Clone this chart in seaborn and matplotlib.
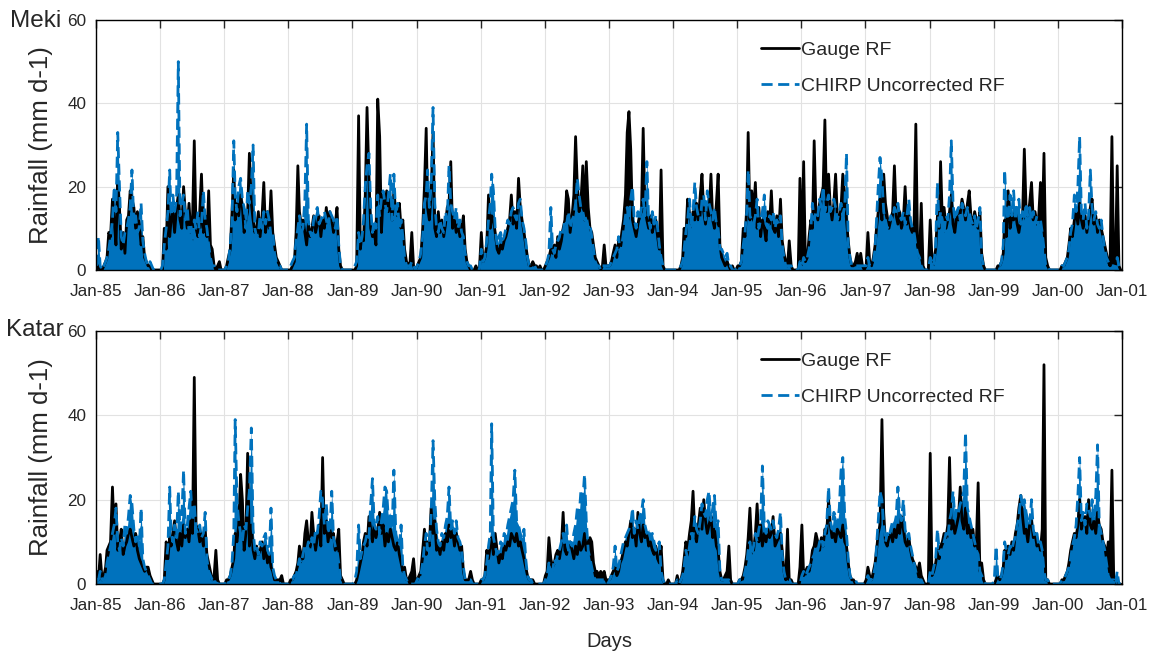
import matplotlib
matplotlib.use("Agg")
import matplotlib.pyplot as plt
import matplotlib.dates as mdates
import pandas as pd
import seaborn as sns

# dekadal rainfall (mm/d), one row per year 1985-2000, 36 dekads each
years = list(range(1985, 2001))

meki_gauge = [
    [0,1,0,0,1,2,3,9,8,17,12,6,21,15,5,9,4,12,13,19,17,15,10,14,11,6,8,3,2,1,1,0,0,0,0,0],
    [0,0,10,5,20,8,12,14,9,15,18,12,10,20,14,10,16,9,12,31,10,8,14,23,9,13,8,19,6,5,1,0,1,2,0,0],
    [0,1,3,5,14,24,12,16,13,18,15,9,12,14,28,16,12,9,10,14,8,13,21,9,14,10,19,9,6,3,2,1,0,0,0,0],
    [0,0,1,2,9,25,14,11,12,9,6,11,8,10,13,9,11,13,8,12,10,15,11,14,12,9,11,15,5,1,0,0,0,0,0,0],
    [0,0,1,37,5,9,7,18,39,22,10,8,9,6,41,32,9,18,15,19,14,17,12,19,14,13,16,10,12,5,2,1,2,9,1,0],
    [1,2,3,10,20,34,15,12,18,33,10,8,14,9,12,8,11,15,16,26,10,12,9,11,8,10,13,5,2,1,0,0,0,1,0,0],
    [9,2,3,6,18,10,13,12,9,5,4,6,5,7,8,10,12,18,11,14,10,22,15,12,9,6,3,1,1,2,1,1,0,1,0,0],
    [1,2,3,5,4,6,3,8,5,7,10,12,19,17,9,13,18,32,20,14,16,25,12,26,15,10,9,6,3,2,1,0,1,6,1,1],
    [1,2,4,6,3,7,5,9,12,18,33,38,29,12,10,8,11,13,14,34,15,12,10,13,9,11,12,8,5,24,1,0,0,0,0,0],
    [0,0,0,0,1,3,10,8,17,13,11,14,12,16,12,18,23,14,11,15,13,23,12,10,16,23,6,3,2,1,2,1,0,1,0,0],
    [1,1,2,10,8,15,33,12,19,14,21,10,15,8,12,10,7,14,11,19,10,9,13,8,17,7,4,2,1,7,1,0,0,0,0,22],
    [4,26,2,3,8,12,10,31,14,12,16,18,20,36,14,23,15,12,16,23,13,12,15,23,18,12,7,3,1,1,2,4,1,4,1,0],
    [1,9,2,1,3,6,10,14,17,12,23,16,13,10,12,14,25,13,11,14,10,12,20,11,13,10,9,11,35,6,3,16,1,0,0,0],
    [12,3,2,5,13,10,26,12,15,10,12,14,18,11,9,13,12,14,17,15,12,16,19,13,11,14,12,10,14,4,1,0,0,0,0,0],
    [0,0,1,1,2,4,12,8,19,10,13,12,14,11,9,12,13,29,15,13,16,21,12,14,11,13,21,10,28,3,1,0,0,0,0,0],
    [0,0,1,1,2,3,6,10,8,12,14,11,16,12,10,13,9,12,15,17,11,13,9,12,10,8,6,4,2,1,32,1,1,25,1,0],
]

meki_chirp = [
    [1,8,1,0,1,2,3,5,8,12,20,14,33,20,8,6,9,10,12,15,24,11,13,9,10,16,7,4,2,1,2,1,0,0,0,0],
    [0,1,6,10,14,24,13,18,14,17,50,13,16,18,12,15,9,11,7,12,10,14,8,11,19,12,10,6,3,1,1,0,0,0,0,0],
    [0,1,2,6,12,31,18,14,20,22,17,15,10,19,16,20,30,10,8,9,13,10,14,11,14,12,8,9,4,2,1,1,0,0,0,0],
    [0,1,2,3,7,10,13,9,10,17,35,12,9,8,12,14,15,11,12,13,14,12,10,14,13,12,10,13,6,1,0,0,0,0,0,0],
    [0,1,2,9,6,8,12,20,25,28,15,9,12,10,18,13,17,19,16,14,18,23,12,23,13,16,10,12,8,3,1,1,1,2,1,0],
    [1,2,4,8,16,18,24,15,20,39,16,10,9,12,10,9,14,12,25,16,14,12,15,10,12,9,8,4,2,1,1,0,0,0,0,0],
    [5,2,3,7,12,16,23,19,10,6,8,9,7,8,10,12,11,14,15,13,12,16,17,12,10,7,3,1,1,1,1,0,0,0,0,0],
    [1,2,4,15,5,4,6,7,8,10,9,12,11,14,10,12,13,16,22,18,15,14,12,13,10,11,8,5,2,1,1,0,1,1,1,1],
    [1,2,3,4,5,8,4,6,9,13,15,12,17,20,12,10,14,12,15,17,13,26,12,10,14,11,13,10,6,3,1,0,0,0,0,0],
    [0,0,0,0,1,2,5,9,12,17,10,14,21,15,13,11,17,18,12,19,16,14,12,15,11,10,5,5,4,3,4,1,1,0,0,0],
    [1,1,2,6,9,14,24,13,12,11,13,17,10,12,14,18,11,10,13,12,14,10,12,11,13,6,3,1,1,1,1,0,0,0,0,2],
    [1,3,2,3,5,10,16,12,14,13,17,15,20,14,16,18,14,15,17,15,12,14,16,13,15,28,6,3,1,1,1,1,1,1,1,1],
    [1,3,1,1,2,5,12,20,27,22,14,12,10,11,13,12,15,14,16,13,12,14,11,13,17,12,10,9,6,4,3,1,0,0,0,0],
    [3,2,1,6,21,10,14,12,9,13,12,18,31,16,12,14,15,12,16,14,13,15,14,12,11,13,10,12,15,3,1,0,0,0,0,0],
    [0,0,1,1,2,6,24,14,12,18,13,19,12,15,17,11,14,12,16,13,15,12,14,11,13,10,12,9,5,1,1,0,0,0,0,0],
    [0,0,1,1,2,3,5,9,11,18,14,20,32,14,12,16,10,13,24,15,12,14,11,10,12,8,5,3,2,1,1,1,0,3,1,0],
]

katar_gauge = [
    [3,1,7,1,2,4,8,9,10,23,12,19,8,10,13,7,9,10,12,13,11,9,12,8,6,5,4,3,4,4,2,1,0,0,0,0],
    [0,0,1,10,6,11,9,12,15,10,8,12,9,14,11,13,10,15,12,49,14,13,10,12,9,13,7,5,3,1,2,8,1,0,0,0],
    [0,1,1,2,4,6,12,10,14,26,20,8,12,31,9,14,8,6,9,7,8,10,6,9,5,7,4,3,1,1,1,1,2,0,0,0],
    [0,1,1,2,3,5,9,7,6,12,15,10,9,17,12,8,11,14,9,30,12,15,10,13,11,12,8,10,13,2,1,0,0,0,0,0],
    [0,0,1,3,5,7,10,12,9,16,13,10,14,11,13,17,12,14,9,12,10,13,11,9,8,10,7,5,3,4,1,1,2,3,6,1],
    [1,2,3,8,13,7,10,9,18,12,15,8,9,7,10,8,12,10,14,11,13,9,12,10,8,9,3,1,1,1,3,1,0,0,0,0],
    [1,1,2,8,6,9,11,7,12,8,5,7,6,9,8,10,9,12,11,10,12,9,10,8,6,4,2,1,1,1,0,0,0,0,0,0],
    [2,3,11,6,4,5,7,8,6,9,17,8,7,9,10,8,6,9,7,10,8,9,12,8,10,11,10,5,3,3,2,3,2,3,1,1],
    [1,2,3,4,2,3,5,6,8,10,9,12,15,11,13,9,17,12,10,14,11,12,9,10,8,7,9,6,5,9,1,0,0,1,0,0],
    [0,0,2,0,1,3,6,10,8,12,15,22,12,10,14,18,13,20,15,12,14,16,11,13,9,8,3,1,1,2,3,9,1,0,0,0],
    [0,1,1,2,4,7,11,18,9,8,12,19,10,14,9,12,10,13,11,12,16,9,10,11,12,8,3,1,13,1,1,0,0,0,0,4],
    [14,2,3,4,3,5,8,9,12,10,8,11,9,13,12,20,14,11,12,10,13,12,11,14,10,9,5,2,1,1,0,0,0,0,0,0],
    [1,4,2,1,3,5,8,12,14,39,17,10,9,11,12,10,13,11,14,12,16,13,10,9,11,8,6,5,4,3,5,2,1,0,0,0],
    [31,2,3,5,8,6,9,10,12,11,14,30,13,15,12,14,16,23,15,13,18,12,14,11,13,9,10,24,3,5,1,0,0,0,0,0],
    [0,1,2,1,2,4,8,6,9,7,10,8,12,14,18,21,16,12,13,10,14,15,11,12,9,10,8,13,52,1,1,0,0,0,0,0],
    [0,0,1,1,2,3,5,8,10,12,11,14,20,13,15,16,12,20,14,13,15,12,17,14,13,10,9,6,10,4,27,2,1,1,0,0],
]

katar_chirp = [
    [1,1,3,1,1,2,5,7,9,12,14,18,10,8,11,9,14,12,16,21,19,13,10,12,9,18,6,4,3,2,1,0,0,0,0,0],
    [0,0,1,5,9,23,12,10,14,11,22,13,16,27,12,14,18,22,15,19,13,12,14,11,12,17,6,3,2,1,1,1,0,0,0,0],
    [0,1,1,2,5,12,39,20,15,12,10,14,13,18,22,37,13,8,9,7,10,9,11,12,8,7,18,4,2,1,1,0,0,0,0,0],
    [0,1,1,2,2,4,6,5,7,9,8,10,7,11,9,13,12,16,22,20,14,19,13,12,22,11,9,8,5,1,1,0,0,0,0,0],
    [0,1,3,14,6,8,9,10,12,11,19,25,14,13,16,12,15,18,23,22,15,17,13,27,12,10,9,14,4,2,1,0,0,0,0,0],
    [1,2,2,5,9,12,8,10,16,34,20,13,10,9,12,11,14,16,23,13,15,12,15,11,10,8,4,1,1,1,1,0,0,0,0,0],
    [1,1,2,5,9,12,38,11,9,7,8,10,9,12,11,14,16,18,20,27,15,14,12,11,13,6,2,1,1,0,0,0,0,0,0,0],
    [1,2,5,4,3,6,5,7,8,10,12,9,14,8,10,9,12,14,18,16,22,20,26,15,8,6,4,2,1,1,1,1,1,1,0,0],
    [1,2,4,9,3,4,6,8,10,11,12,13,14,18,12,15,13,16,17,20,14,12,13,11,12,10,8,9,10,3,1,0,0,0,0,0],
    [0,0,1,0,1,2,4,8,6,9,12,11,16,13,12,15,19,17,16,20,22,15,18,21,13,15,3,1,1,1,1,1,0,0,0,0],
    [0,1,1,1,3,5,8,10,7,9,12,10,13,15,28,14,12,15,14,13,15,12,11,13,17,7,3,1,1,1,0,0,0,0,0,0],
    [2,3,2,3,4,5,6,7,9,8,10,11,9,12,14,23,15,13,17,16,14,18,27,30,16,12,6,2,1,1,1,0,0,0,0,0],
    [1,2,1,1,2,4,9,15,22,20,14,10,12,11,13,15,14,16,23,17,15,20,13,11,12,9,7,5,3,1,1,1,0,0,0,0],
    [3,2,4,6,13,8,7,9,10,12,11,15,17,22,16,18,17,19,20,22,36,18,16,14,12,10,8,7,3,2,1,0,0,0,0,0],
    [1,9,2,1,2,5,10,8,7,9,8,10,11,14,16,21,18,20,17,15,14,20,13,11,12,9,10,8,3,1,1,0,0,0,0,0],
    [0,0,1,1,2,3,4,6,9,11,14,21,30,15,17,14,19,18,16,20,15,21,33,14,12,10,8,5,2,1,1,1,0,3,0,0],
]

stations = ["Meki", "Katar"]
series_labels = ["Gauge RF", "CHIRP Uncorrected RF"]


def to_frame(gauge, chirp):
    rows = []
    for yr, g_row, c_row in zip(years, gauge, chirp):
        assert len(g_row) == 36 and len(c_row) == 36, yr
        for k in range(36):
            d = pd.Timestamp(yr, k // 3 + 1, (5, 15, 25)[k % 3])
            rows.append((d, g_row[k], c_row[k]))
    return pd.DataFrame(rows, columns=["date", "gauge", "chirp"])


sns.set_theme(style="whitegrid", rc={"grid.color": "#e2e2e2", "grid.linewidth": 0.8,
                                     "axes.edgecolor": "black", "axes.linewidth": 1.0})
plt.rcParams["font.family"] = ["Liberation Sans", "DejaVu Sans"]

fig = plt.figure(figsize=(11.52, 6.54), dpi=100)
ax_top = fig.add_axes([0.0833, 0.5872, 0.8906, 0.3823])
ax_bot = fig.add_axes([0.0833, 0.1070, 0.8906, 0.3869])

blue = "#0072BD"
dash = (0, (4, 2))
frames = [to_frame(meki_gauge, meki_chirp), to_frame(katar_gauge, katar_chirp)]

for ax, df, name in zip([ax_top, ax_bot], frames, stations):
    # gauge first, satellite estimate on top of it
    ax.fill_between(df["date"], 0, df["gauge"], color="black", lw=0)
    sns.lineplot(data=df, x="date", y="gauge", color="black", lw=2,
                 label=series_labels[0], ax=ax)
    ax.fill_between(df["date"], 0, df["chirp"], color=blue, lw=0)
    sns.lineplot(data=df, x="date", y="chirp", color=blue, lw=2,
                 label=series_labels[1], ax=ax)
    ax.lines[-1].set_linestyle(dash)

    ax.set_xlim(pd.Timestamp("1985-01-01"), pd.Timestamp("2001-01-01"))
    ax.set_ylim(0, 60)
    ax.set_yticks([0, 20, 40, 60])
    ax.xaxis.set_major_locator(mdates.YearLocator())
    ax.xaxis.set_major_formatter(mdates.DateFormatter("%b-%y"))
    ax.tick_params(direction="in", top=True, right=True, length=6, width=1,
                   labelsize=12.3, colors="#262626", pad=7)
    ax.tick_params(axis="x", pad=10)
    for sp in ax.spines.values():
        sp.set_color("black")
        sp.set_linewidth(1.0)

    ax.set_ylabel("Rainfall (mm d-1)", fontsize=18.5, color="#262626")
    ax.yaxis.set_label_coords(-0.042, 0.5)
    ax.set_xlabel("")

    leg = ax.legend(loc="upper left", bbox_to_anchor=(0.648, 0.915), frameon=False,
                    fontsize=14, handlelength=1.95, handletextpad=0.12,
                    labelspacing=0.95, borderaxespad=0, borderpad=0)
    leg.get_lines()[1].set_linestyle(dash)

ax_bot.set_xlabel("Days", fontsize=14.5, color="#262626", labelpad=14)

fig.text(10 / 1152, 1 - 10 / 654, "Meki", va="top", ha="left", fontsize=17.5)
fig.text(6 / 1152, 1 - 319 / 654, "Katar", va="top", ha="left", fontsize=17.5)

fig.savefig("out.png", dpi=100)
